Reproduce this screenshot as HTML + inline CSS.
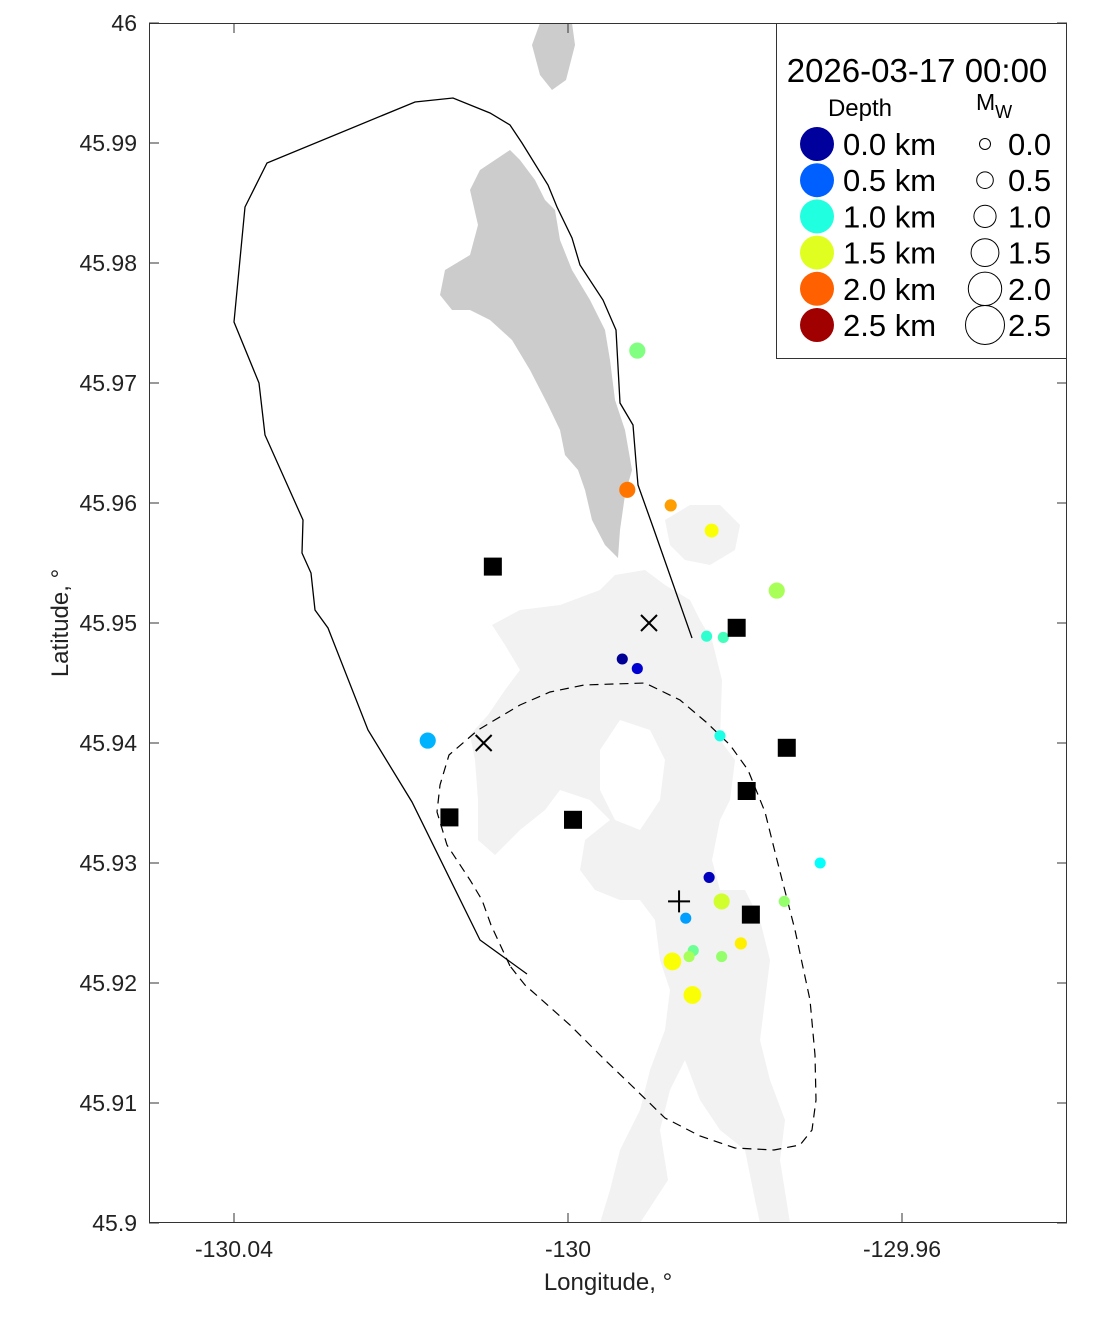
<!DOCTYPE html>
<html><head><meta charset="utf-8"><style>
body{margin:0;background:#fff;}
svg{display:block;font-family:"Liberation Sans",sans-serif;}
</style></head><body>
<svg id="chart" width="1111" height="1324" xmlns="http://www.w3.org/2000/svg">
<rect x="0" y="0" width="1111" height="1324" fill="#fff"/>
<g id="land">
<path fill="#f2f2f2" d="M492,625 L520,610 L560,605 L600,590 L615,575 L645,570 L665,585 L690,600 L700,620 L712,640 L722,680 L720,740 L735,760 L730,800 L720,820 L712,860 L720,890 L745,890 L760,920 L770,960 L765,1000 L760,1040 L770,1080 L785,1120 L780,1160 L790,1223 L760,1223 L755,1200 L745,1150 L720,1130 L700,1100 L685,1060 L670,1090 L660,1130 L668,1180 L640,1223 L600,1223 L610,1190 L620,1150 L640,1110 L650,1070 L665,1030 L670,990 L660,960 L655,920 L640,900 L620,900 L595,890 L580,870 L585,840 L610,820 L590,800 L560,790 L545,810 L520,830 L495,855 L478,840 L478,800 L475,760 L470,735 L488,715 L505,690 L520,670 L505,645 Z"/>
<path fill="#f2f2f2" d="M665,520 L690,505 L720,505 L740,525 L735,550 L710,565 L685,560 L670,545 Z"/>
<path fill="#fff" d="M620,720 L650,730 L665,760 L660,800 L640,830 L615,820 L600,790 L600,750 Z"/>
<path fill="#cccccc" d="M540,23 L572,23 L575,45 L566,80 L552,90 L540,75 L532,45 Z"/>
<path fill="#cccccc" d="M510,150 L520,160 L535,180 L545,200 L555,210 L560,240 L572,270 L590,300 L605,330 L610,360 L615,400 L625,430 L632,470 L625,495 L620,530 L618,558 L605,545 L592,520 L585,490 L578,470 L565,455 L560,430 L548,405 L530,370 L512,340 L490,320 L470,310 L452,310 L440,295 L445,270 L470,255 L478,225 L470,190 L480,170 L495,160 Z"/>
</g>
<g id="bounds">
<polyline fill="none" stroke="#000" stroke-width="1.3" points="692,638 653,527 638,485 636,462 633,425 620,403 616,330 603,300 580,265 572,238 557,207 548,185 522,143 510,125 490,113 453,98 415,102 267,163 245,207 234,322 259,383 265,435 303,520 302,553 311,573 315,610 328,628 368,730 412,802 480,940 527,974"/>
<polyline fill="none" stroke="#000" stroke-width="1.2" stroke-dasharray="9,6" points="510,966 491,925 482,900 470,880 447,845 437,812 440,785 449,755 478,730 520,705 550,692 584,685 645,683 680,700 706,722 730,745 748,770 765,812 777,860 795,930 810,1000 815,1055 816,1100 812,1130 800,1145 774,1150 735,1148 700,1136 665,1118 631,1085 605,1060 570,1025 525,985 510,966"/>
</g>
<g id="marks"></g>
<rect x="149.5" y="23.5" width="917" height="1199" fill="none" stroke="#333" stroke-width="1"/>
<g id="axes"></g>
<text x="608" y="1290" font-size="24" text-anchor="middle" fill="#222">Longitude, °</text>
<text transform="translate(68,623) rotate(-90)" font-size="24" text-anchor="middle" fill="#222">Latitude, °</text>
<g id="legend">
<rect x="776.5" y="23.5" width="290" height="335" fill="#fff" stroke="#333"/>
<text x="917" y="82" font-size="33" text-anchor="middle">2026-03-17 00:00</text>
<text x="860" y="116" font-size="24" text-anchor="middle">Depth</text>
<text x="976" y="110" font-size="23">M<tspan font-size="18" dy="8">W</tspan></text>
</g>
</svg>
<script>
const lons=[-129.9917,-129.9929,-129.9877,-129.9828,-129.975,-129.9834,-129.9814,-129.9935,-129.9917,-129.9818,-130.0168,-129.9698,-129.9831,-129.9816,-129.9741,-129.9859,-129.985,-129.9855,-129.9816,-129.9793,-129.9875,-129.9851];
const lats=[45.9727,45.9611,45.9598,45.9577,45.9527,45.9489,45.9488,45.947,45.9462,45.9406,45.9402,45.93,45.9288,45.9268,45.9268,45.9254,45.9227,45.9222,45.9222,45.9233,45.9218,45.919];
const depths=[1.25,1.9,1.8,1.55,1.35,1.05,1.1,0.05,0.2,1.0,0.75,0.95,0.15,1.45,1.3,0.7,1.2,1.35,1.3,1.6,1.55,1.55];
const mws=[0.55,0.55,0.2,0.35,0.55,0.1,0.1,0.1,0.1,0.1,0.55,0.1,0.1,0.55,0.1,0.1,0.1,0.1,0.1,0.2,0.7,0.7];
const stLons=[-130.009,-129.9798,-129.9738,-129.9786,-130.0142,-129.9994,-129.9781];
const stLats=[45.9547,45.9496,45.9396,45.936,45.9338,45.9336,45.9257];
const xLons=[-129.9903,-130.0101];
const xLats=[45.95,45.94];
const plusLon=[-129.9867], plusLat=[45.9268];
const xTicks=[-130.04,-130,-129.96];
const xTickLabels=["-130.04","-130","-129.96"];
const yTicks=[45.9,45.91,45.92,45.93,45.94,45.95,45.96,45.97,45.98,45.99,46];
const yTickLabels=["45.9","45.91","45.92","45.93","45.94","45.95","45.96","45.97","45.98","45.99","46"];
const legDepths=[0,0.5,1,1.5,2,2.5];
const legMws=[0,0.5,1,1.5,2,2.5];
const NS="http://www.w3.org/2000/svg";
const X=v=>568+(v+130)*8350;
const Y=v=>1223-(v-45.9)*12000;
const R=m=>5+m*5.6;
function jet(d){let t=Math.max(0,Math.min(1,d/2.5));
 const c=x=>Math.round(255*Math.max(0,Math.min(1,1.5-Math.abs(4*t-x))));
 return `rgb(${c(3)},${c(2)},${c(1)})`;}
function legColor(d){const cols=["#00009c","#0060ff","#20ffe0","#e0ff20","#ff6000","#a00000"];return cols[Math.round(d/0.5)];}
function mk(tag,a,p){const e=document.createElementNS(NS,tag);for(const k in a)e.setAttribute(k,a[k]);p.appendChild(e);return e;}
const marks=document.getElementById('marks');
for(let i=0;i<lons.length;i++){const c=mk('circle',{cx:X(lons[i]),cy:Y(lats[i]),r:R(mws[i]),fill:jet(depths[i])},marks);

}
for(let i=0;i<stLons.length;i++){const s=mk('rect',{x:X(stLons[i])-9,y:Y(stLats[i])-9,width:18,height:18,fill:'#000'},marks);

}
for(let i=0;i<xLons.length;i++){const x=X(xLons[i]),y=Y(xLats[i]);
const p=mk('path',{d:`M${x-8},${y-8}L${x+8},${y+8}M${x-8},${y+8}L${x+8},${y-8}`,stroke:'#000','stroke-width':2},marks);

}
{const x=X(plusLon[0]),y=Y(plusLat[0]);
const p=mk('path',{d:`M${x-11},${y}L${x+11},${y}M${x},${y-11}L${x},${y+11}`,stroke:'#000','stroke-width':2},marks);

}
const axes=document.getElementById('axes');
xTicks.forEach((v,i)=>{const x=X(v);
const t=mk('line',{x1:x,x2:x,y1:1223,y2:1213,stroke:'#333'},axes);


const t2=mk('line',{x1:x,x2:x,y1:23,y2:33,stroke:'#333'},axes);


const l=mk('text',{x:x,y:1257,'font-size':23,'text-anchor':'middle',fill:'#222'},axes);l.textContent=xTickLabels[i];

});
yTicks.forEach((v,i)=>{const y=Y(v);
const t=mk('line',{x1:149,x2:159,y1:y,y2:y,stroke:'#333'},axes);


const t2=mk('line',{x1:1057,x2:1067,y1:y,y2:y,stroke:'#333'},axes);


const l=mk('text',{x:137,y:y+8,'font-size':23,'text-anchor':'end',fill:'#222'},axes);l.textContent=yTickLabels[i];

});
const leg=document.getElementById('legend');
legDepths.forEach((d,i)=>{const y=144+i*36.2;
const c=mk('circle',{cx:817,cy:y,r:17,fill:legColor(d)},leg);


const t=mk('text',{x:843,y:y+11,'font-size':31},leg);t.textContent=d.toFixed(1)+' km';


const m=mk('circle',{cx:985,cy:y,r:R(legMws[i])+0.5,fill:'#fff',stroke:'#000','stroke-width':1},leg);


const u=mk('text',{x:1008,y:y+11,'font-size':31},leg);u.textContent=legMws[i].toFixed(1);

});
</script>
</body></html>
